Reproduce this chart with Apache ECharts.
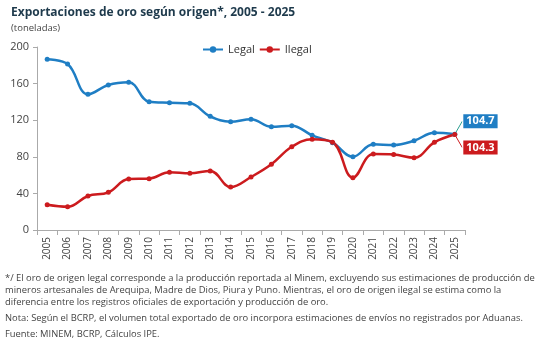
<!DOCTYPE html>
<html><head><meta charset="utf-8">
<script src="https://cdn.jsdelivr.net/npm/echarts@6/dist/echarts.min.js"></script>
<style>html,body{margin:0;padding:0;background:#fff}#c{width:540px;height:345px}</style>
</head><body><div id="c"></div>
<script>
const years = ['2005','2006','2007','2008','2009','2010','2011','2012','2013','2014','2015','2016','2017','2018','2019','2020','2021','2022','2023','2024','2025'];
const legal = [186.5,181.4,148.3,158.5,161.4,140.2,139.1,138.4,124.2,118.4,121.0,112.9,114.0,103.5,95.4,80.1,93.6,92.9,97.6,106.3,104.7];
const ilegal = [27.7,25.5,37.2,41.2,55.7,56.1,63.1,62.0,64.5,47.0,57.9,71.8,91.0,99.1,96.0,57.2,83.0,82.5,79.0,95.8,104.3];
const yTicks = [0,40,80,120,160,200];
const font = 'Open Sans';
const blue = '#1f7ec4', red = '#cc1b1e';
const chart = echarts.init(document.getElementById('c'));
function lastLabel(color) {
  return {
    show: true, formatter: p => p.value.toFixed(1), position: 'right',
    backgroundColor: color, color: '#fff', fontWeight: 'bold', fontFamily: font, fontSize: 11,
    padding: [2, 3, 1, 3], borderColor: '#fff', borderWidth: 1
  };
}
chart.setOption({
  animation: false,
  textStyle: {fontFamily: font},
  title: [
    {text: 'Exportaciones de oro según origen*, 2005 - 2025', left: 6, top: 2,
     textStyle: {fontFamily: font, fontSize: 12, fontWeight: 'bold', color: '#1e3a4c'}},
    {text: '(toneladas)', left: 6, top: 18, textStyle: {fontFamily: font, fontSize: 9.5, fontWeight: 'normal', color: '#444'}}
  ],
  legend: {left: 197, top: 39, itemWidth: 20, itemHeight: 8, itemGap: 4,
    textStyle: {fontFamily: font, fontSize: 11, color: '#333'},
    data: ['Legal', 'Ilegal']},
  grid: {left: 37, right: 75, top: 47, bottom: 115},
  xAxis: {type: 'category', data: years, boundaryGap: true,
    axisLine: {lineStyle: {color: '#aaa'}},
    axisTick: {show: true, alignWithLabel: false, lineStyle: {color: '#aaa'}},
    axisLabel: {rotate: 90, fontSize: 10, color: '#444', fontFamily: font, margin: 7}},
  yAxis: {type: 'value', min: 0, max: 200, interval: 40,
    axisLine: {show: true, lineStyle: {color: '#aaa'}},
    axisTick: {show: true, length: 4, lineStyle: {color: '#aaa'}},
    splitLine: {show: false},
    axisLabel: {fontSize: 11, color: '#444', fontFamily: font, margin: 8,
      formatter: v => yTicks.includes(v) ? String(v) : ''}},
  series: [
    {name: 'Legal', type: 'line', smooth: 0.4, data: legal.map((v, i) => i === legal.length - 1 ? {value: v, label: lastLabel(blue)} : v),
     color: blue, symbol: 'circle', symbolSize: 5, lineStyle: {width: 2.5, color: blue}, itemStyle: {color: blue},
     labelLine: {show: true, lineStyle: {color: '#2a9d8f', width: 1}},
     labelLayout: p => p.dataIndex === legal.length - 1 ? {dx: 1, dy: -13} : {}},
    {name: 'Ilegal', type: 'line', smooth: 0.4, data: ilegal.map((v, i) => i === ilegal.length - 1 ? {value: v, label: lastLabel(red)} : v),
     color: red, symbol: 'circle', symbolSize: 5, lineStyle: {width: 2.5, color: red}, itemStyle: {color: red},
     labelLine: {show: true, lineStyle: {color: red, width: 1}},
     labelLayout: p => p.dataIndex === ilegal.length - 1 ? {dx: 1, dy: 13} : {}}
  ],
  graphic: [
    {type: 'text', left: 5, top: 272, style: {text: '*/ El oro de origen legal corresponde a la producción reportada al Minem, excluyendo sus estimaciones de producción de\nmineros artesanales de Arequipa, Madre de Dios, Piura y Puno. Mientras, el oro de origen ilegal se estima como la\ndiferencia entre los registros oficiales de exportación y producción de oro.', fontFamily: font, fontSize: 9.4, lineHeight: 12, fill: '#444'}},
    {type: 'text', left: 5, top: 314, style: {text: 'Nota: Según el BCRP, el volumen total exportado de oro incorpora estimaciones de envíos no registrados por Aduanas.', fontFamily: font, fontSize: 9.4, fill: '#444'}},
    {type: 'text', left: 5, top: 330, style: {text: 'Fuente: MINEM, BCRP, Cálculos IPE.', fontFamily: font, fontSize: 9.4, fill: '#444'}}
  ]
});
</script></body></html>
